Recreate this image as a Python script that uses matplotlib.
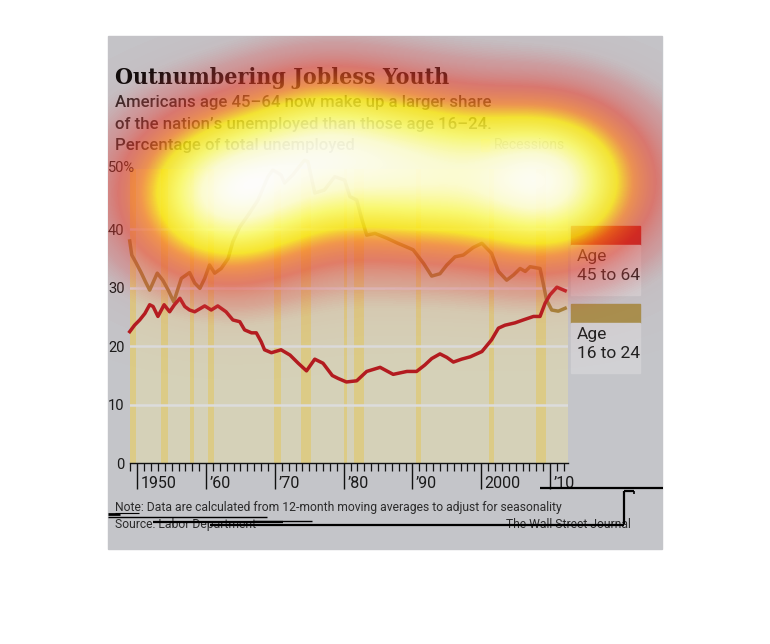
import numpy as np
import matplotlib
matplotlib.use("Agg")
import matplotlib.pyplot as plt
from matplotlib.colors import LinearSegmentedColormap
from matplotlib.patches import Rectangle
from matplotlib.transforms import ScaledTranslation, blended_transform_factory

plt.rcParams["font.family"] = ["Roboto", "DejaVu Sans"]

W, H = 770, 644

# ---- data: share of total unemployed, % (12-month moving average) ----
youth_years = [1948.9, 1949.2, 1949.85, 1950.6, 1951.2, 1951.8, 1952.9, 1953.7, 1954.5,
               1955.3, 1956.4, 1957.6, 1958.35, 1959.1, 1959.8, 1960.5, 1961.25, 1962.2,
               1963.2, 1963.9, 1964.9, 1966.1, 1967.55, 1969.0, 1969.7, 1970.9, 1971.4,
               1972.6, 1974.3, 1974.8, 1975.8, 1977.2, 1978.7, 1980.15, 1980.9, 1981.9,
               1982.6, 1983.35, 1984.55, 1986.25, 1987.7, 1990.1, 1991.6, 1992.8, 1994.0,
               1995.0, 1996.2, 1997.4, 1998.85, 2000.1, 2001.5, 2002.5, 2003.7, 2004.7,
               2005.65, 2006.4, 2007.1, 2008.55, 2009.0, 2009.5, 2010.25, 2011.2, 2012.2]
youth_share = [38.0, 35.6, 34.2, 32.5, 31.0, 29.6, 32.5, 31.3, 29.6,
               27.6, 31.6, 32.6, 30.8, 29.9, 31.6, 33.9, 32.5, 33.3,
               35.0, 37.9, 40.4, 42.4, 45.0, 49.0, 50.1, 49.3, 47.9,
               49.3, 51.8, 51.6, 46.2, 46.7, 49.0, 48.4, 45.6, 45.0,
               41.9, 39.0, 39.3, 38.5, 37.7, 36.5, 34.2, 32.0, 32.4,
               33.9, 35.3, 35.6, 36.9, 37.6, 35.9, 32.8, 31.3, 32.2,
               33.3, 32.8, 33.6, 33.3, 30.8, 27.9, 26.2, 26.0, 26.5]

older_years = [1948.9, 1949.6, 1950.35, 1951.1, 1951.8, 1952.3, 1953.0, 1953.9, 1954.7,
               1955.4, 1956.2, 1956.9, 1957.6, 1958.35, 1959.8, 1960.75, 1961.7, 1962.9,
               1963.9, 1964.9, 1965.6, 1966.6, 1967.3, 1968.0, 1968.5, 1969.5, 1970.9,
               1972.2, 1973.4, 1974.6, 1975.8, 1977.0, 1978.35, 1979.2, 1980.4, 1981.9,
               1983.35, 1985.3, 1987.2, 1989.2, 1990.6, 1991.8, 1992.8, 1994.0, 1995.0,
               1995.95, 1997.15, 1998.4, 2000.1, 2001.5, 2002.5, 2003.45, 2004.9, 2006.1,
               2007.6, 2008.55, 2009.3, 2010.0, 2011.0, 2012.2]
older_share = [22.5, 23.6, 24.5, 25.6, 27.1, 26.8, 25.1, 27.1, 25.9,
               27.1, 28.2, 26.8, 26.2, 25.9, 26.9, 26.2, 26.9, 25.9,
               24.5, 24.2, 22.8, 22.3, 22.3, 20.8, 19.4, 18.9, 19.4,
               18.5, 17.1, 15.8, 17.8, 17.1, 15.0, 14.5, 13.9, 14.1,
               15.7, 16.4, 15.2, 15.7, 15.7, 16.8, 17.9, 18.7, 18.1,
               17.3, 17.8, 18.2, 19.1, 21.1, 23.1, 23.6, 24.0, 24.5,
               25.1, 25.1, 27.4, 28.8, 30.1, 29.5]

# NBER recessions (start, end)
recessions = [(1948.9, 1949.8), (1953.5, 1954.4), (1957.6, 1958.3), (1960.3, 1961.1),
              (1969.9, 1970.9), (1973.8, 1975.2), (1980.0, 1980.5), (1981.5, 1982.9),
              (1990.5, 1991.2), (2001.2, 2001.9), (2007.95, 2009.45)]

decades = [1950, 1960, 1970, 1980, 1990, 2000, 2010]
decade_labels = ["1950", "\u201960", "\u201970", "\u201980", "\u201990", "2000", "\u201910"]
y_ticks = [0, 10, 20, 30, 40]

# attention hot spots laid over the graphic (pixel centre x, y, weight)
spot_x = [225, 325, 425, 548]
spot_y = [195, 152, 172, 182]
spot_w = [1.05, 0.8, 0.72, 1.1]

C_RED = "#b31b20"
C_GOLD = "#a2863a"


def fx(px):
    return px / W


def fy(py):
    return 1 - py / H


def fit_width(txt, width_px):
    r = fig.canvas.get_renderer()
    w = txt.get_window_extent(r).width
    txt.set_fontsize(txt.get_fontsize() * width_px / w)


fig = plt.figure(figsize=(W / 100, H / 100), dpi=100)
fig.patch.set_facecolor("white")
fig.patches.append(Rectangle((fx(108), fy(549)), 554 / W, 513 / H,
                             transform=fig.transFigure, color="#c4c5c9", zorder=-5))

# ---- main chart ----
ax = fig.add_axes([fx(130), fy(463.3), (567.9 - 130) / W, 294.3 / H], zorder=1)
ax.set_facecolor("#d5d1b8")
ax.set_xlim(1948.94, 2012.6)
ax.set_ylim(0, 50.3)
for a, b in recessions:
    ax.axvspan(a, b, color="#dccb86", lw=0, zorder=1)
for v in y_ticks[1:]:
    ax.axhline(v, color="#dcdcdc", lw=1.8, zorder=2)
ax.plot(youth_years, youth_share, color=C_GOLD, lw=2.5, zorder=3, clip_on=False,
        solid_joinstyle="round")
ax.plot(older_years, older_share, color=C_RED, lw=2.5, zorder=4, clip_on=False,
        solid_joinstyle="round")

for s in ["top", "right", "left"]:
    ax.spines[s].set_visible(False)
ax.spines["bottom"].set_color("#111111")
ax.spines["bottom"].set_linewidth(1.0)

ax.set_xticks(decades)
ax.set_xticks(range(1949, 2013), minor=True)
ax.tick_params(axis="x", which="major", length=19, width=1.0, color="#111111",
               labelbottom=False)
ax.tick_params(axis="x", which="minor", length=6, width=0.9, color="#111111")
ax.set_yticks(y_ticks)
ax.set_yticklabels([str(v) for v in y_ticks])
ax.tick_params(axis="y", length=0, pad=4, labelsize=10.5, labelcolor="#1a1a1a")

tr = blended_transform_factory(ax.transData, ax.transAxes)
for yr, lab in zip(decades, decade_labels):
    ax.text(yr, 0, lab, transform=tr + ScaledTranslation(0.035, -0.13, fig.dpi_scale_trans),
            ha="left", va="top", fontsize=11.5, color="#1a1a1a")

fig.text(fx(108), fy(168), "50%", ha="left", va="center", fontsize=10.5, color="#1a1a1a")

# ---- headline ----
title = fig.text(fx(115), fy(84), "Outnumbering Jobless Youth", ha="left", va="baseline",
                 family=["DejaVu Serif", "Liberation Serif"], stretch="condensed",
                 weight="heavy", fontsize=18, color="#0c0c0c")
fit_width(title, 334)

subs = ["Americans age 45\u201364 now make up a larger share",
        "of the nation\u2019s unemployed than those age 16\u201324.",
        "Percentage of total unemployed"]
sub_txt = []
for i, s in enumerate(subs):
    sub_txt.append(fig.text(fx(115), fy(107.5 + 21 * i), s, ha="left", va="baseline",
                            fontsize=11, weight="medium", color="#262626"))
fit_width(sub_txt[0], 374)
for t in sub_txt[1:]:
    t.set_fontsize(sub_txt[0].get_fontsize())

fig.patches.append(Rectangle((fx(481.5), fy(151)), 8 / W, 12 / H,
                             transform=fig.transFigure, color="#dccb86", zorder=2))
fig.text(fx(494), fy(149), "Recessions", ha="left", va="baseline", fontsize=10,
         color="#6b6b60")

# ---- legend boxes ----
fig.patches.append(Rectangle((fx(571), fy(245)), 69 / W, 19 / H,
                             transform=fig.transFigure, color=C_RED, zorder=2))
fig.patches.append(Rectangle((fx(571), fy(295)), 69 / W, 50 / H,
                             transform=fig.transFigure, color="#d1d1d4", zorder=2))
fig.patches.append(Rectangle((fx(571), fy(323)), 69 / W, 19 / H,
                             transform=fig.transFigure, color="#a8914f", zorder=2))
fig.patches.append(Rectangle((fx(571), fy(373)), 69 / W, 50 / H,
                             transform=fig.transFigure, color="#d1d1d4", zorder=2))
fig.text(fx(577), fy(249), "Age\n45 to 64", ha="left", va="top", fontsize=12.5,
         color="#222222", linespacing=1.3)
fig.text(fx(577), fy(327), "Age\n16 to 24", ha="left", va="top", fontsize=12.5,
         color="#222222", linespacing=1.3)

# ---- footer ----
note = fig.text(fx(115), fy(510.7), "Note: Data are calculated from 12-month moving "
                "averages to adjust for seasonality", ha="left", va="baseline",
                fontsize=9, color="#2b2b2b")
fit_width(note, 449)
fig.text(fx(115), fy(527.7), "Source: Labor Department", ha="left", va="baseline",
         fontsize=note.get_fontsize(), color="#2b2b2b")
fig.text(fx(631), fy(527.5), "The Wall Street Journal", ha="right", va="baseline",
         fontsize=note.get_fontsize(), color="#2b2b2b")

# ---- heat overlay + marker strokes ----
top = fig.add_axes([0, 0, 1, 1], zorder=10)
top.patch.set_visible(False)
top.axis("off")

gx, gy = np.meshgrid(np.arange(108, 662) + 0.5, np.arange(36, 549) + 0.5)
field = np.zeros_like(gx)
for cx, cy, w in zip(spot_x, spot_y, spot_w):
    field += w * np.exp(-((gx - cx) ** 2 / (2 * 58 ** 2) + (gy - cy) ** 2 / (2 * 50 ** 2)))
    field += 0.12 * w * np.exp(-((gx - cx) ** 2 / (2 * 115 ** 2) + (gy - cy) ** 2 / (2 * 70 ** 2)))
field = field / field.max()
heat = LinearSegmentedColormap.from_list("heat", [
    (0.00, (0.85, 0.10, 0.10, 0.00)),
    (0.04, (0.86, 0.22, 0.22, 0.05)),
    (0.09, (0.88, 0.25, 0.25, 0.30)),
    (0.20, (0.92, 0.22, 0.15, 0.55)),
    (0.34, (1.00, 0.48, 0.10, 0.68)),
    (0.47, (1.00, 0.92, 0.05, 0.80)),
    (0.66, (1.00, 1.00, 0.40, 0.86)),
    (0.84, (1.00, 1.00, 0.82, 0.92)),
    (1.00, (1.00, 1.00, 1.00, 0.96)),
])
top.imshow(heat(field), extent=(108, 662, 549, 36), aspect="auto", interpolation="bilinear")

strokes = [((540, 488), (663, 488), 1.6), ((623.5, 491), (623.5, 524), 1.6),
           ((623.5, 491), (634, 491), 1.6), ((634, 491), (634, 493.5), 1.2),
           ((210, 525.3), (623.5, 525.3), 1.6), ((108, 513.5), (120, 513.5), 2.0),
           ((108, 516.5), (267, 516.5), 1.0), ((153, 522.2), (283, 522.2), 1.6),
           ((253, 521), (312, 521), 1.0), ((115, 512.5), (139, 512.5), 0.8)]
for (x0, y0), (x1, y1), lw in strokes:
    top.plot([x0, x1], [y0, y1], color="black", lw=lw, solid_capstyle="butt")
top.set_xlim(0, W)
top.set_ylim(H, 0)

fig.savefig("out.png", dpi=100)
